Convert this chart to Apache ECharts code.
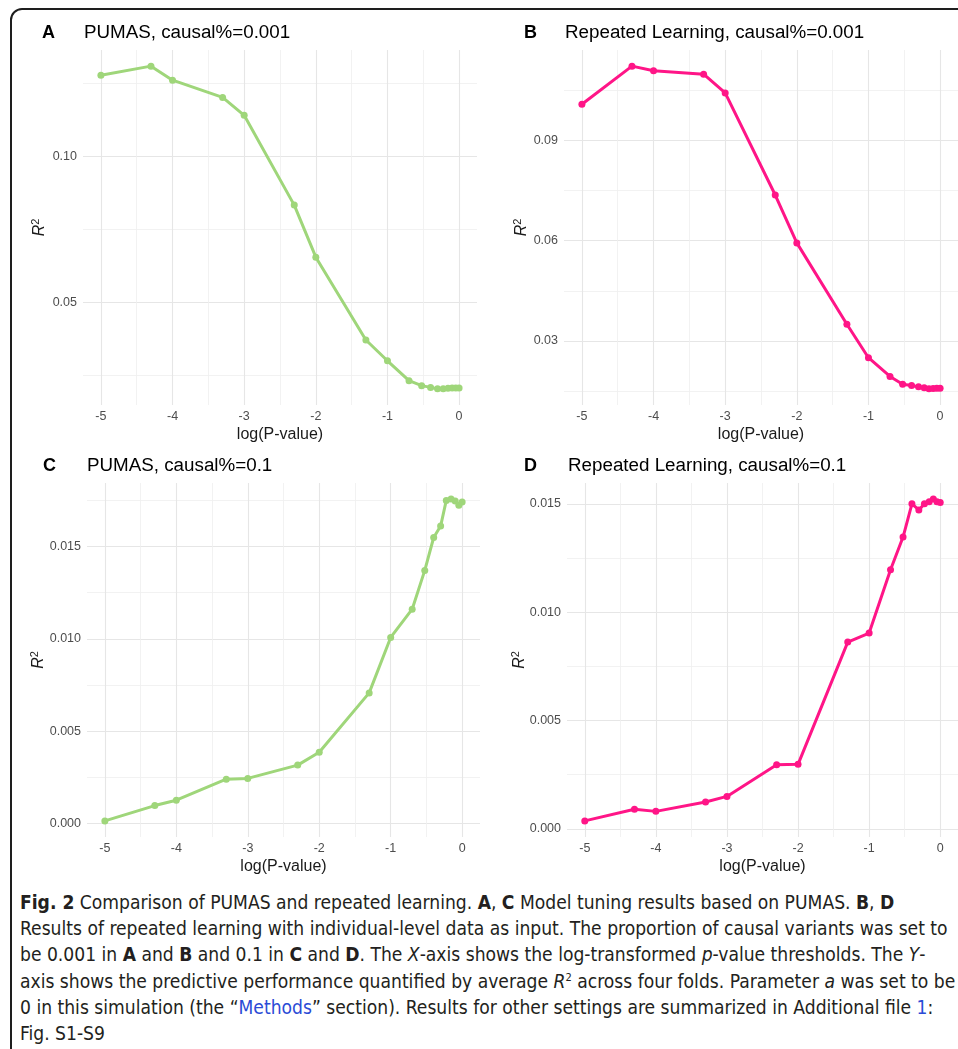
<!DOCTYPE html>
<html>
<head>
<meta charset="utf-8">
<script src="https://cdn.jsdelivr.net/npm/echarts@6/dist/echarts.min.js"></script>
<style>
  body { margin: 0; background: #fff; width: 958px; height: 1049px; overflow: hidden; position: relative; }
  #frame {
    position: absolute; left: 10px; top: 8px; width: 1000px; height: 1100px; z-index: 2;
    border: 2px solid #1e1e1e; border-radius: 12px; box-sizing: border-box; pointer-events: none;
  }
  #chart { position: absolute; left: 0; top: 0; width: 958px; height: 880px; }
  #caption {
    position: absolute; left: 20px; top: 890px; width: 935px;
    font-family: "DejaVu Sans Condensed", "Liberation Sans Narrow", sans-serif;
    font-size: 19.1px; line-height: 26.2px; color: #231f20; white-space: nowrap;
  }
  #caption sup { font-size: 11px; line-height: 0; }
  #caption a { color: #2b4bd6; text-decoration: none; }
</style>
</head>
<body>
<div id="frame"></div>
<div id="chart"></div>
<div id="caption">
  <b>Fig. 2</b> Comparison of PUMAS and repeated learning. <b>A</b>, <b>C</b> Model tuning results based on PUMAS. <b>B</b>, <b>D</b><br>
  Results of repeated learning with individual-level data as input. The proportion of causal variants was set to<br>
  be 0.001 in <b>A</b> and <b>B</b> and 0.1 in <b>C</b> and <b>D</b>. The <i>X</i>-axis shows the log-transformed <i>p</i>-value thresholds. The <i>Y</i>-<br>
  axis shows the predictive performance quantified by average <i>R</i><sup>2</sup> across four folds. Parameter <i>a</i> was set to be<br>
  0 in this simulation (the “<a>Methods</a>” section). Results for other settings are summarized in Additional file <a>1</a>:<br>
  Fig. S1-S9
</div>
<script>
// log10 of the p-value thresholds
const logP = [-5, -4.301, -4, -3.301, -3, -2.301, -2, -1.301, -1, -0.699, -0.523, -0.398, -0.301, -0.222, -0.155, -0.097, -0.046, 0]

const pumas001 = [0.1277, 0.1308, 0.1260, 0.1201, 0.1140, 0.0833, 0.0655, 0.0372, 0.0301, 0.0233, 0.0216, 0.0210, 0.0205, 0.0205, 0.0207, 0.0208, 0.0208, 0.0208]
const repeated001 = [0.1007, 0.1121, 0.1107, 0.1097, 0.1041, 0.0736, 0.0593, 0.0350, 0.0250, 0.0194, 0.0171, 0.0167, 0.0163, 0.0160, 0.0157, 0.0158, 0.0159, 0.0159]
const pumas01 = [0.00014, 0.00097, 0.00126, 0.0024, 0.00244, 0.00316, 0.00386, 0.00707, 0.01007, 0.0116, 0.0137, 0.01548, 0.0161, 0.01749, 0.01756, 0.01745, 0.01723, 0.0174]
const repeated01 = [0.00037, 0.00091, 0.00081, 0.00124, 0.0015, 0.00296, 0.00298, 0.00862, 0.00904, 0.01196, 0.01347, 0.0150, 0.01472, 0.0150, 0.0151, 0.01522, 0.0151, 0.01506]

const xMajor = [-5, -4, -3, -2, -1, 0]
const xMinor = [-4.5, -3.5, -2.5, -1.5, -0.5]

const green = '#9fd67a'
const pink = '#ff1587'
const font = 'Liberation Sans'

const panels = [
  { letter: 'A', title: 'PUMAS, causal%=0.001', data: pumas001, color: green,
    grid: { left: 83, top: 50, width: 394, height: 355 }, letterX: 42, titleX: 84, titleY: 23,
    yMajor: [0.05, 0.10], yMinor: [0.025, 0.075, 0.125], digits: 2, nameGap: 33 },
  { letter: 'B', title: 'Repeated Learning, causal%=0.001', data: repeated001, color: pink,
    grid: { left: 564, top: 50, width: 394, height: 355 }, letterX: 524, titleX: 565, titleY: 23,
    yMajor: [0.03, 0.06, 0.09], yMinor: [0.015, 0.045, 0.075, 0.105], digits: 2, nameGap: 32 },
  { letter: 'C', title: 'PUMAS, causal%=0.1', data: pumas01, color: green,
    grid: { left: 87, top: 483, width: 393, height: 354 }, letterX: 43, titleX: 87, titleY: 456,
    yMajor: [0, 0.005, 0.010, 0.015], yMinor: [0.0025, 0.0075, 0.0125, 0.0175], digits: 3, nameGap: 38 },
  { letter: 'D', title: 'Repeated Learning, causal%=0.1', data: repeated01, color: pink,
    grid: { left: 567, top: 483, width: 393, height: 354 }, letterX: 524, titleX: 568, titleY: 456,
    yMajor: [0, 0.005, 0.010, 0.015], yMinor: [0.0025, 0.0075, 0.0125], digits: 3, nameGap: 37 },
]

const chart = echarts.init(document.getElementById('chart'))

const option = {
  animation: false,
  backgroundColor: '#fff',
  title: [],
  grid: [],
  xAxis: [],
  yAxis: [],
  series: [],
}

panels.forEach((p, i) => {
  // ggplot-like 5% expansion
  const lo = Math.min(...p.data), hi = Math.max(...p.data)
  const pad = (hi - lo) * 0.05
  const yMin = lo - pad, yMax = hi + pad
  const xMin = -5.25, xMax = 0.25

  option.title.push(
    { text: p.letter, left: p.letterX, top: p.titleY + 1, padding: 0,
      textStyle: { fontFamily: font, fontSize: 18, fontWeight: 'bold', color: '#000' } },
    { text: p.title, left: p.titleX, top: p.titleY, padding: 0,
      textStyle: { fontFamily: font, fontSize: 18.8, fontWeight: 'normal', color: '#000' } }
  )
  option.grid.push(p.grid)

  // minor grid lines
  option.xAxis.push({
    type: 'value', gridIndex: i, position: 'bottom', min: xMin, max: xMax,
    axisLine: { show: false }, axisLabel: { show: false },
    axisTick: { show: false, customValues: xMinor },
    splitLine: { show: true, lineStyle: { color: '#efefef', width: 0.8 } },
  })
  option.yAxis.push({
    type: 'value', gridIndex: i, position: 'left', min: yMin, max: yMax,
    axisLine: { show: false }, axisLabel: { show: false },
    axisTick: { show: false, customValues: p.yMinor },
    splitLine: { show: true, lineStyle: { color: '#efefef', width: 0.8 } },
  })
  // major axes
  option.xAxis.push({
    type: 'value', gridIndex: i, position: 'bottom', min: xMin, max: xMax,
    name: 'log(P-value)', nameLocation: 'middle', nameGap: 22, nameMoveOverlap: false,
    nameTextStyle: { fontFamily: font, fontSize: 16, color: '#1a1a1a' },
    axisLine: { show: false },
    axisTick: { show: false, customValues: xMajor },
    axisLabel: { customValues: xMajor, margin: 5, fontFamily: font, fontSize: 12.5, color: '#4d4d4d',
      formatter: v => String(Math.round(v)) },
    splitLine: { show: true, lineStyle: { color: '#e6e6e6', width: 1.1 } },
  })
  option.yAxis.push({
    type: 'value', gridIndex: i, position: 'left', min: yMin, max: yMax,
    name: '{r|R}{s|2}', nameLocation: 'middle', nameGap: p.nameGap, nameMoveOverlap: false,
    nameTextStyle: { rich: {
      r: { fontFamily: font, fontSize: 16, fontStyle: 'italic', color: '#1a1a1a' },
      s: { fontFamily: font, fontSize: 11, color: '#1a1a1a', verticalAlign: 'top', padding: [0, 0, 9, 0] },
    } },
    axisLine: { show: false },
    axisTick: { show: false, customValues: p.yMajor },
    axisLabel: { customValues: p.yMajor, margin: 6, fontFamily: font, fontSize: 12.5, color: '#4d4d4d',
      formatter: v => v.toFixed(p.digits) },
    splitLine: { show: true, lineStyle: { color: '#e6e6e6', width: 1.1 } },
  })

  option.series.push({
    type: 'line',
    xAxisIndex: i * 2 + 1,
    yAxisIndex: i * 2 + 1,
    data: logP.map((x, k) => [x, p.data[k]]),
    symbol: 'circle',
    symbolSize: 7,
    showSymbol: true,
    lineStyle: { color: p.color, width: 3 },
    itemStyle: { color: p.color },
    z: 5,
  })
})

chart.setOption(option)
</script>
</body>
</html>
